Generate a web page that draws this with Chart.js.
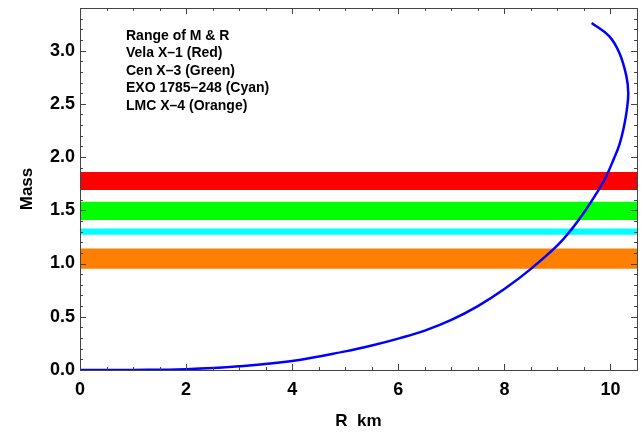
<!DOCTYPE html>
<html>
<head>
<meta charset="utf-8">
<script src="https://cdn.jsdelivr.net/npm/chart.js@4.4.0/dist/chart.umd.min.js"></script>
<style>
  html, body { margin: 0; padding: 0; background: #fff; }
  #wrap { width: 641px; height: 434px; }
</style>
</head>
<body>
<div id="wrap"><canvas id="mr"></canvas></div>
<script>
  // mass-radius curve
  const radius = [0, 1, 2, 3, 4, 5, 5.5, 6, 6.5, 7, 7.5, 8, 8.5, 9, 9.28, 9.53, 9.75, 9.92, 10.06, 10.17, 10.26, 10.31, 10.335, 10.3, 10.17, 9.975, 9.645];
  const mass = [0, 0.001, 0.008, 0.035, 0.085, 0.175, 0.23, 0.295, 0.37, 0.47, 0.6, 0.76, 0.95, 1.17, 1.33, 1.5, 1.67, 1.82, 1.98, 2.12, 2.3, 2.45, 2.6, 2.76, 2.975, 3.135, 3.26];

  // observed mass ranges
  const bandNames = ['Vela X–1', 'Cen X–3', 'EXO 1785–248', 'LMC X–4'];
  const bandLow = [1.69, 1.41, 1.27, 0.95];
  const bandHigh = [1.86, 1.58, 1.33, 1.14];
  const bandColors = ['#ff0000', '#00ff00', '#00ffff', '#ff8000'];

  const noteLines = ['Range of M & R', 'Vela X–1 (Red)', 'Cen X–3 (Green)', 'EXO 1785–248 (Cyan)', 'LMC X–4 (Orange)'];

  const xMin = 0, xMax = 10.5, yMin = 0, yMax = 3.4;

  const datasets = bandNames.map((name, i) => ({
    label: name,
    data: [{x: xMin, y: bandHigh[i]}, {x: xMax, y: bandHigh[i]}],
    showLine: true,
    borderWidth: 0,
    borderColor: 'rgba(0,0,0,0)',
    backgroundColor: bandColors[i],
    fill: {value: bandLow[i]},
    pointRadius: 0,
    order: 2,
  }));
  datasets.push({
    label: 'M-R',
    data: radius.map((r, i) => ({x: r, y: mass[i]})),
    showLine: true,
    borderColor: '#0000ff',
    borderWidth: 2.5,
    tension: 0.4,
    pointRadius: 0,
    fill: false,
    order: 0,
  });

  const frame = {
    id: 'frame',
    afterDatasetsDraw(chart) {
      const {ctx, chartArea: a, scales: {x, y}} = chart;
      ctx.save();
      ctx.strokeStyle = '#444';
      ctx.lineWidth = 1;
      ctx.beginPath();
      for (let v = 0; v <= xMax + 1e-9; v += 0.5) {
        const px = Math.round(x.getPixelForValue(v)) + 0.5;
        const len = (Math.abs(v % 2) < 1e-9) ? 6 : 3;
        ctx.moveTo(px, a.bottom); ctx.lineTo(px, a.bottom - len);
        ctx.moveTo(px, a.top); ctx.lineTo(px, a.top + len);
      }
      for (let k = 0; k <= 34; k++) {
        const v = k / 10;
        const py = Math.round(y.getPixelForValue(v)) + 0.5;
        const len = (k % 5 === 0) ? 6 : 3;
        ctx.moveTo(a.left, py); ctx.lineTo(a.left + len, py);
        ctx.moveTo(a.right, py); ctx.lineTo(a.right - len, py);
      }
      ctx.stroke();
      ctx.strokeRect(Math.round(a.left) + 0.5, Math.round(a.top) + 0.5, Math.round(a.right - a.left), Math.round(a.bottom - a.top));

      ctx.fillStyle = '#000';
      ctx.font = 'bold 14px "Liberation Sans", Arial, sans-serif';
      ctx.textBaseline = 'middle';
      noteLines.forEach((t, i) => ctx.fillText(t, a.left + 46, a.top + 28 + i * 17.5));
      ctx.restore();
    }
  };

  const tickFont = {family: '"Liberation Sans", Arial, sans-serif', size: 18, weight: 'bold'};
  const titleFont = {family: '"Liberation Sans", Arial, sans-serif', size: 17, weight: 'bold'};

  new Chart(document.getElementById('mr'), {
    type: 'scatter',
    data: {datasets},
    options: {
      responsive: true,
      maintainAspectRatio: false,
      animation: false,
      layout: {padding: {top: 8, right: 4, left: 0, bottom: 0}},
      plugins: {legend: {display: false}, tooltip: {enabled: false}},
      scales: {
        x: {
          type: 'linear',
          min: xMin, max: xMax,
          grid: {display: false, drawTicks: false},
          border: {display: false},
          ticks: {stepSize: 2, includeBounds: false, color: '#000', font: tickFont, padding: 9},
          title: {display: true, text: 'R  km', color: '#000', font: titleFont, padding: {top: 10, bottom: 2}},
          afterFit(s) { s.height = 64; s.paddingRight = 0; }
        },
        y: {
          type: 'linear',
          min: yMin, max: yMax,
          grid: {display: false, drawTicks: false},
          border: {display: false},
          ticks: {stepSize: 0.5, includeBounds: false, color: '#000', font: tickFont, padding: 5,
            callback: v => v.toFixed(1)},
          title: {display: true, text: 'Mass', color: '#000', font: titleFont, padding: {top: 17, bottom: 4}},
          afterFit(s) { s.width = 80; s.paddingTop = 0; s.paddingBottom = 0; }
        }
      }
    },
    plugins: [frame]
  });
</script>
</body>
</html>
